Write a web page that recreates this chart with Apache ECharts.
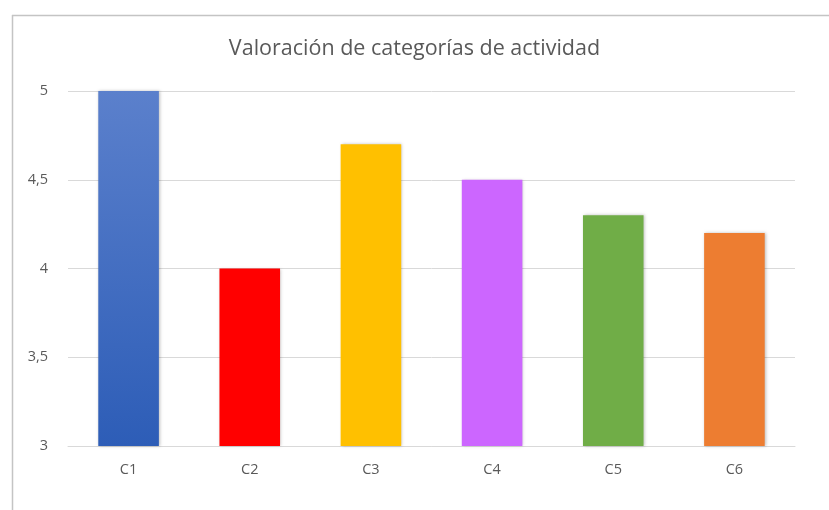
<!DOCTYPE html>
<html>
<head>
<meta charset="utf-8">
<script src="https://cdn.jsdelivr.net/npm/echarts@6/dist/echarts.min.js"></script>
<style>
  html, body { margin: 0; padding: 0; background: #fff; }
  #main { width: 829px; height: 510px; }
</style>
</head>
<body>
<div id="main"></div>
<script>
// datos del gráfico
var categorias = ['C1', 'C2', 'C3', 'C4', 'C5', 'C6'];
var valores = [5, 4, 4.7, 4.5, 4.3, 4.2];
var colores = [null, '#ff0000', '#ffc000', '#cc66ff', '#70ad47', '#ed7d31'];

var myChart = echarts.init(document.getElementById('main'));

var azul = new echarts.graphic.LinearGradient(0, 0, 0, 1, [
  { offset: 0, color: '#5b80cc' },
  { offset: 1, color: '#2d5db7' }
]);

var datos = valores.map(function (v, i) {
  return {
    value: v,
    itemStyle: { color: colores[i] || azul }
  };
});

var option = {
  animation: false,
  title: {
    text: 'Valoración de categorías de actividad',
    left: 'center',
    top: 33,
    textStyle: {
      fontFamily: 'Open Sans',
      fontSize: 21.5,
      fontWeight: 'normal',
      color: '#595959'
    }
  },
  graphic: [
    { type: 'line', shape: { x1: 12, y1: 15.5, x2: 829, y2: 15.5 }, style: { stroke: '#c4c4c4', lineWidth: 1.5 } },
    { type: 'line', shape: { x1: 12.5, y1: 15, x2: 12.5, y2: 510 }, style: { stroke: '#c4c4c4', lineWidth: 1.5 } }
  ],
  grid: { left: 68, right: 34, top: 91, bottom: 64 },
  xAxis: {
    type: 'category',
    data: categorias,
    axisLine: { lineStyle: { color: '#d9d9d9' } },
    axisTick: { show: false },
    axisLabel: { color: '#595959', fontSize: 14.5, margin: 16, fontFamily: 'Open Sans' }
  },
  yAxis: {
    type: 'value',
    min: 3,
    max: 5,
    interval: 0.5,
    axisLine: { show: false },
    axisTick: { show: false },
    splitLine: { lineStyle: { color: '#d9d9d9' } },
    axisLabel: {
      color: '#595959',
      fontSize: 14.5,
      margin: 20,
      fontFamily: 'Open Sans',
      formatter: function (v) { return String(v).replace('.', ','); }
    }
  },
  series: [{
    type: 'bar',
    data: datos,
    barWidth: '50%',
    itemStyle: {
      shadowColor: 'rgba(0,0,0,0.25)',
      shadowBlur: 3,
      shadowOffsetX: 1
    }
  }]
};
myChart.setOption(option);
</script>
</body>
</html>
